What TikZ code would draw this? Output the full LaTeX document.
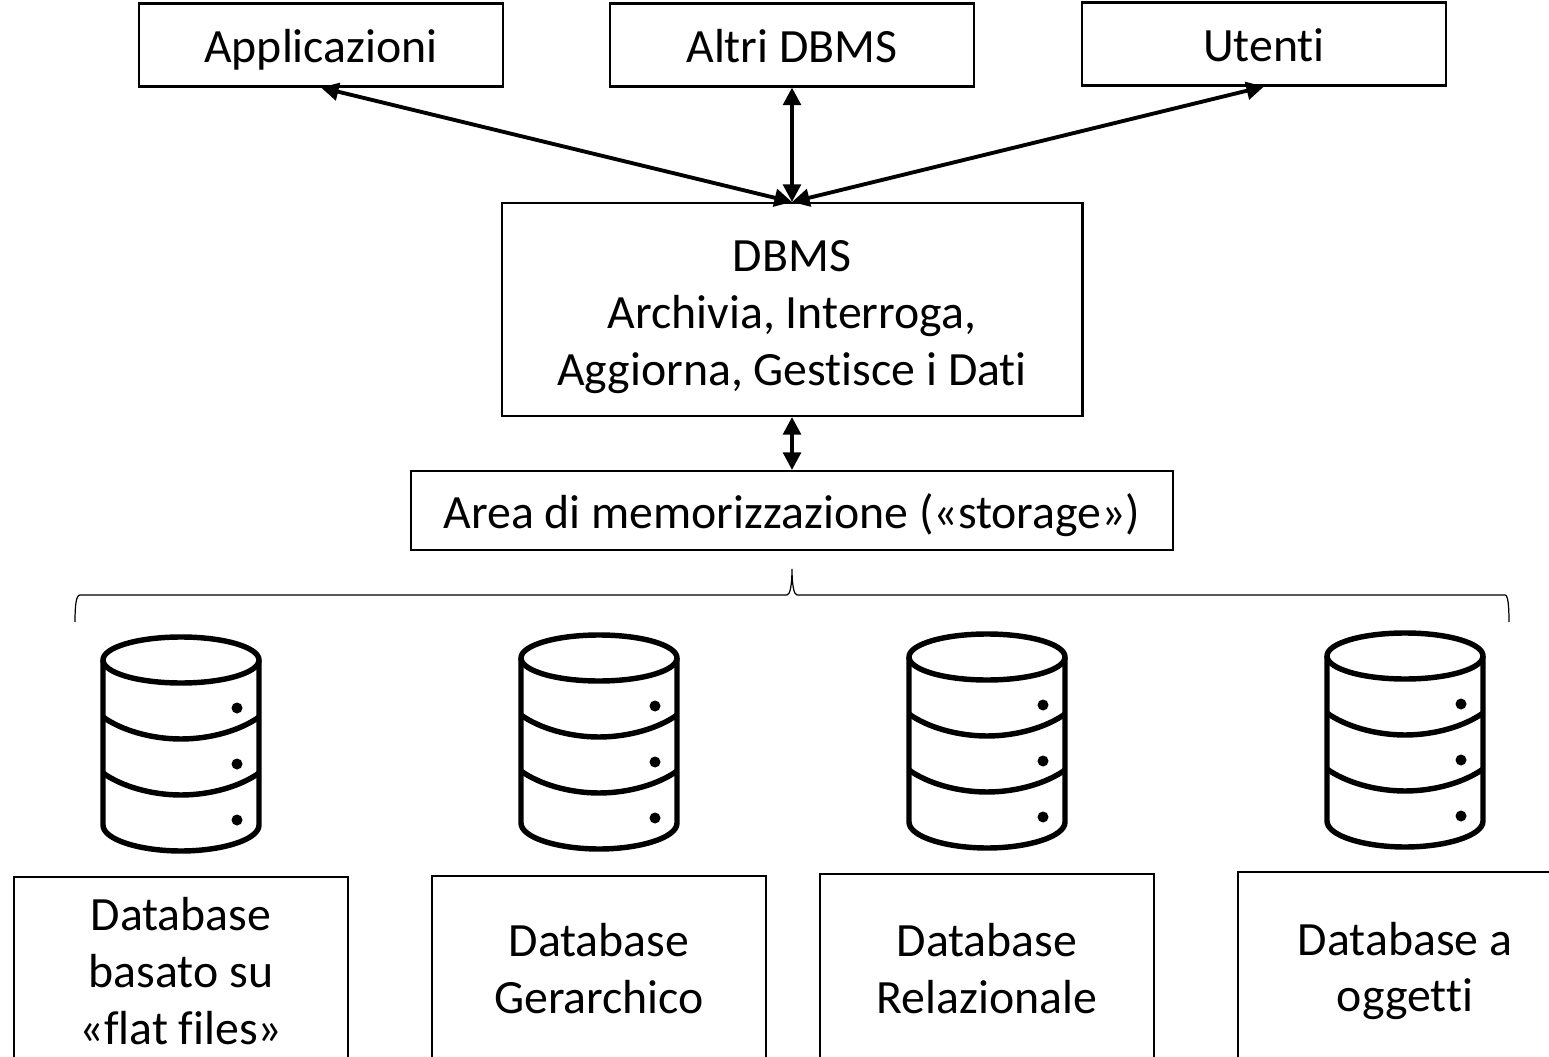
\documentclass[tikz,border=0pt]{standalone}
\usepackage{fontspec}
\setmainfont[Ligatures=NoCommon]{Carlito}
\usetikzlibrary{arrows.meta}

\begin{document}
\begin{tikzpicture}[x=0.02cm, y=-0.02cm,
    box/.style={rectangle, draw, line width=1.2pt, align=center, inner sep=0pt,
        font=\fontsize{27.2}{32.4}\selectfont},
    topbox/.style={box, minimum width=7.28cm, minimum height=1.66cm, text height=0.9cm, text depth=0.18cm},
    dbbox/.style={box, minimum width=6.68cm},
    link/.style={{Triangle[length=10pt,width=10pt]}-{Triangle[length=10pt,width=10pt]}, line width=2.2pt},
    dbicon/.pic={
        \draw[line width=3.1pt, line join=round] (0,660) ellipse [x radius=78, y radius=23];
        \draw[line width=3.1pt, line join=round] (-78,660) -- (-78,825)
            .. controls (-78,840) and (-40,851) .. (0,851)
            .. controls (40,851) and (78,840) .. (78,825) -- (78,660);
        \draw[line width=3.1pt] (-78,717) .. controls (-60,730) and (-30,739) .. (0,739)
            .. controls (30,739) and (60,730) .. (78,717);
        \draw[line width=3.1pt] (-78,773) .. controls (-60,786) and (-30,795) .. (0,795)
            .. controls (30,795) and (60,786) .. (78,773);
        \fill (56,708) circle (5.5);
        \fill (56,764) circle (5.5);
        \fill (56,820) circle (5.5);
    }]
    \useasboundingbox (0,0) rectangle (1549,1057);

    \node[topbox] (app) at (321,45) {Applicazioni};
    \node[topbox] (altri) at (792,45) {Altri DBMS};
    \node[topbox] (utenti) at (1264,44) {Utenti};
    \node[box, minimum width=11.62cm, minimum height=4.26cm] (dbms) at (792,309.5)
        {\rule{0pt}{26pt}DBMS\\Archivia, Interroga,\\Aggiorna, Gestisce i Dati};
    \node[box, minimum width=15.24cm, minimum height=1.58cm, text height=0.9cm, text depth=0.18cm] (storage) at (792,510.5)
        {Area di memorizzazione («storage»)};

    \draw[link] (app.south) -- (dbms.north);
    \draw[link] (altri.south) -- (dbms.north);
    \draw[link] (utenti.south) -- (dbms.north);
    \draw[link] (dbms.south) -- (storage.north);

    % curly bracket over the four databases
    \draw[line width=0.7pt] (75,622) .. controls (75,606) and (76,595) .. (80,595) -- (787,595)
        .. controls (790,595) and (792,585) .. (792,569)
        .. controls (792,585) and (794,595) .. (797,595) -- (1505,595)
        .. controls (1508,595) and (1509,606) .. (1509,622);

    \foreach \px/\py/\pname in {181/0/a, 599/-2/b, 987/-3/c, 1405/-4/d}
        \pic (icon\pname) at (\px,\py) {dbicon};

    \node[dbbox, minimum height=3.76cm] (flat) at (181,971) {Database\\basato su\\«flat files»};
    \node[dbbox, minimum height=3.72cm] (gerarchico) at (599,969) {Database\\Gerarchico};
    \node[dbbox, minimum height=3.8cm] (relazionale) at (987,969) {Database\\Relazionale};
    \node[dbbox, minimum height=3.96cm] (oggetti) at (1405,971) {Database a\\oggetti};
\end{tikzpicture}
\end{document}
